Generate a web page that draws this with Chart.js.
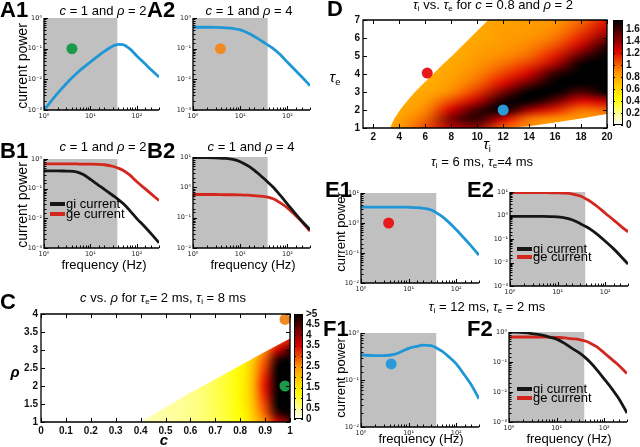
<!DOCTYPE html>
<html>
<head>
<meta charset="utf-8">
<script src="https://cdn.jsdelivr.net/npm/chart.js@4.4.0/dist/chart.umd.min.js"></script>
<style>
  body { margin: 0; background: #fff; }
  #fig { position: relative; width: 640px; height: 447px; overflow: hidden;
         font-family: "Liberation Sans", Arial, sans-serif; color: #000; }
  #fig canvas { position: absolute; }
  .t { position: absolute; white-space: nowrap; }
  .t sub { font-size: 0.62em; vertical-align: -0.3em; line-height: 0; }
  .sw { position: absolute; width: 15px; height: 4px; }
</style>
</head>
<body>
<div id="fig"></div>
<script>
// ---- spectra (frequency in Hz, power on log axes) ----
const freqs = [1, 2, 3, 5, 7, 10, 15, 20, 30, 40, 50, 70, 100, 150, 200, 300];
const shadeEnd = 38;

const powerA1 = [0.001, 0.0036, 0.0072, 0.0155, 0.024, 0.0367, 0.0594, 0.0815, 0.1206, 0.139, 0.136, 0.1, 0.058, 0.032, 0.021, 0.012];
const powerA2 = [0.5, 0.5, 0.495, 0.48, 0.455, 0.41, 0.32, 0.25, 0.168, 0.127, 0.1, 0.064, 0.036, 0.019, 0.0122, 0.0062];
const giB1 = [0.4, 0.4, 0.39, 0.37, 0.3, 0.205, 0.13, 0.095, 0.06, 0.043, 0.032, 0.0185, 0.0098, 0.0051, 0.0031, 0.0015];
const geB1 = [0.68, 0.68, 0.68, 0.68, 0.67, 0.67, 0.66, 0.64, 0.57, 0.49, 0.42, 0.29, 0.17, 0.1, 0.068, 0.04];
const giB2 = [9.5, 9.5, 9.3, 9.0, 8.3, 7.0, 5.0, 3.6, 2.1, 1.4, 1.0, 0.55, 0.28, 0.13, 0.078, 0.04];
const geB2 = [0.58, 0.58, 0.58, 0.57, 0.57, 0.56, 0.55, 0.53, 0.5, 0.47, 0.42, 0.31, 0.21, 0.115, 0.075, 0.036];
const powerE1 = [3.4, 3.4, 3.4, 3.4, 3.4, 3.35, 3.25, 3.1, 2.7, 2.1, 1.65, 1.05, 0.6, 0.3, 0.18, 0.085];
const giE2 = [0.91, 0.91, 0.91, 0.91, 0.9, 0.88, 0.78, 0.66, 0.45, 0.33, 0.25, 0.15, 0.08, 0.038, 0.021, 0.0085];
const geE2 = [9.5, 9.5, 9.5, 9.4, 9.3, 9.2, 8.9, 8.3, 6.8, 5.0, 3.8, 2.3, 1.25, 0.64, 0.39, 0.2];
const powerF1 = [0.34, 0.33, 0.33, 0.35, 0.4, 0.47, 0.52, 0.55, 0.54, 0.47, 0.41, 0.31, 0.22, 0.126, 0.083, 0.04];
const giF2 = [1.0, 0.95, 0.89, 0.78, 0.68, 0.58, 0.41, 0.3, 0.2, 0.14, 0.1, 0.055, 0.027, 0.0118, 0.0062, 0.002];
const geF2 = [0.68, 0.68, 0.68, 0.67, 0.67, 0.66, 0.64, 0.6, 0.56, 0.5, 0.43, 0.32, 0.2, 0.115, 0.078, 0.041];

// marker dots [freq, power]
const dotA1 = [4, 0.1];
const dotA2 = [3.8, 0.1];
const dotE1 = [3.8, 1.0];
const dotF1 = [4.3, 0.22];

// ---- panel C: c vs rho ----
const cVals = [0.40, 0.45, 0.50, 0.55, 0.60, 0.65, 0.70, 0.75, 0.80, 0.85, 0.90, 0.95, 1.00];
const rhoVals = [1, 1.25, 1.5, 1.75, 2, 2.25, 2.5, 2.75, 3, 3.25, 3.5];
const powerC = [
  [0.35, 0.4, 0.45, 0.5, 0.57, 0.68, 0.82, 0.98, 1.2, 1.7, 2.6, 3.6, 4.2],
  [0.35, 0.4, 0.45, 0.5, 0.57, 0.68, 0.83, 1.0, 1.25, 1.85, 2.9, 4.6, 5.6],
  [0.35, 0.4, 0.45, 0.5, 0.57, 0.68, 0.84, 1.02, 1.3, 1.95, 3.1, 5.8, 7.5],
  [0.35, 0.4, 0.45, 0.5, 0.57, 0.68, 0.85, 1.03, 1.32, 2.0, 3.3, 6.8, 8.5],
  [0.35, 0.4, 0.45, 0.5, 0.57, 0.68, 0.85, 1.04, 1.33, 2.05, 3.4, 7.2, 9.0],
  [0.35, 0.4, 0.45, 0.5, 0.57, 0.68, 0.85, 1.03, 1.32, 2.0, 3.3, 6.8, 8.5],
  [0.35, 0.4, 0.45, 0.5, 0.57, 0.68, 0.84, 1.02, 1.3, 1.95, 3.1, 5.8, 7.5],
  [0.35, 0.4, 0.45, 0.5, 0.57, 0.68, 0.83, 1.0, 1.25, 1.85, 2.9, 4.6, 5.6],
  [0.35, 0.4, 0.45, 0.5, 0.57, 0.68, 0.82, 0.98, 1.2, 1.7, 2.6, 3.6, 4.4],
  [0.35, 0.4, 0.45, 0.5, 0.57, 0.68, 0.8, 0.95, 1.1, 1.5, 2.2, 2.9, 3.4],
  [0.35, 0.4, 0.45, 0.5, 0.57, 0.68, 0.8, 0.92, 1.05, 1.35, 1.9, 2.5, 2.9]
];
const edgeC = [[0.4, 1], [0.5, 1.41], [0.6, 1.81], [0.7, 2.19], [0.8, 2.57], [0.9, 2.95], [1, 3.32], [1, 1]];
const dotsC = [[0.98, 3.85, '#f08a24'], [0.98, 2.0, '#1a9a4a']];
const cTicks = [0, 0.1, 0.2, 0.3, 0.4, 0.5, 0.6, 0.7, 0.8, 0.9, 1];
const rhoTicks = [1, 1.5, 2, 2.5, 3, 3.5, 4];
const cbarCTicks = [0, 0.5, 1, 1.5, 2, 2.5, 3, 3.5, 4, 4.5, 5];
const cbarCMax = 5;

// ---- panel D: tau_i vs tau_e ----
const tiVals = [2, 4, 6, 8, 10, 12, 14, 16, 18, 20];
const teVals = [1, 1.5, 2, 2.5, 3, 3.5, 4, 4.5, 5, 5.5, 6, 6.5, 7];
const powerD = [
  [0.78, 0.85, 1.05, 1.3, 1.4, 1.0, 0.9, 0.85, 0.82, 0.8],
  [0.78, 0.82, 0.98, 1.45, 1.65, 1.25, 0.95, 0.88, 0.85, 0.82],
  [0.78, 0.8, 0.9, 1.25, 1.6, 1.8, 1.35, 1.15, 0.95, 1.0],
  [0.78, 0.8, 0.84, 1.05, 1.3, 1.7, 1.8, 1.5, 1.2, 1.3],
  [0.78, 0.8, 0.8, 0.9, 1.1, 1.45, 1.8, 1.8, 1.55, 1.75],
  [0.78, 0.8, 0.78, 0.85, 0.98, 1.2, 1.5, 1.85, 1.8, 1.8],
  [0.78, 0.8, 0.78, 0.82, 0.92, 1.07, 1.25, 1.65, 1.88, 1.9],
  [0.78, 0.8, 0.78, 0.8, 0.88, 0.97, 1.1, 1.35, 1.8, 1.92],
  [0.78, 0.8, 0.78, 0.78, 0.85, 0.9, 0.98, 1.17, 1.55, 1.85],
  [0.78, 0.8, 0.78, 0.78, 0.83, 0.87, 0.92, 1.05, 1.3, 1.68],
  [0.78, 0.8, 0.78, 0.78, 0.8, 0.85, 0.88, 0.95, 1.15, 1.45],
  [0.78, 0.8, 0.78, 0.78, 0.8, 0.84, 0.86, 0.9, 1.05, 1.28],
  [0.78, 0.8, 0.78, 0.78, 0.8, 0.83, 0.85, 0.88, 0.98, 1.18]
];
const edgeD = [[3.28, 1], [3.6, 1.5], [4.05, 2], [4.6, 2.5], [5.2, 3], [5.9, 3.5], [6.6, 4], [7.3, 4.5],
  [8.05, 5], [8.75, 5.5], [9.45, 6], [10.15, 6.5], [10.85, 7], [20, 7], [20, 1.78], [18, 1.53], [16, 1.3], [14, 1.1], [12, 1]];
const dotsD = [[6.15, 4.05, '#e8191c'], [12, 2.0, '#2a9ad8']];
const tiTicks = [2, 4, 6, 8, 10, 12, 14, 16, 18, 20];
const teTicks = [1, 2, 3, 4, 5, 6, 7];
const cbarDTicks = [0, 0.2, 0.4, 0.6, 0.8, 1, 1.2, 1.4, 1.6];
const cbarDMax = 1.75;

// ---- look ----
const BLUE = '#1f97d6', BLACK = '#161616', RED = '#d3261d';
const hotStops = [[0, [255, 255, 255]], [0.25, [255, 255, 0]], [0.5, [255, 150, 0]], [0.7, [220, 0, 0]], [0.86, [100, 0, 0]], [1, [0, 0, 0]]];

Chart.defaults.font.family = '"Liberation Sans", Arial, sans-serif';
const fig = document.getElementById('fig');

function hot(t) {
  t = Math.max(0, Math.min(1, t));
  for (let i = 1; i < hotStops.length; i++) {
    const [t0, c0] = hotStops[i - 1], [t1, c1] = hotStops[i];
    if (t <= t1) {
      const f = (t - t0) / (t1 - t0);
      return c0.map((v, k) => Math.round(v + (c1[k] - v) * f));
    }
  }
  return hotStops[hotStops.length - 1][1];
}

function makeCanvas(x, y, w, h) {
  const c = document.createElement('canvas');
  c.width = w; c.height = h;
  c.style.left = x + 'px'; c.style.top = y + 'px';
  c.style.width = w + 'px'; c.style.height = h + 'px';
  fig.appendChild(c);
  return c;
}

function text(html, x, base, size, opt = {}) {
  const d = document.createElement('div');
  d.className = 't';
  d.innerHTML = html;
  d.style.fontSize = size + 'px';
  d.style.lineHeight = size + 'px';
  d.style.left = x + 'px';
  d.style.top = (base - 0.85 * size) + 'px';
  if (opt.bold) d.style.fontWeight = 'bold';
  if (opt.center) d.style.transform = 'translateX(-50%)';
  fig.appendChild(d);
}

function vtext(html, cx, cy, size) {
  const d = document.createElement('div');
  d.className = 't';
  d.innerHTML = html;
  d.style.fontSize = size + 'px';
  d.style.lineHeight = size + 'px';
  d.style.left = cx + 'px';
  d.style.top = cy + 'px';
  d.style.transform = 'translate(-50%,-50%) rotate(-90deg)';
  fig.appendChild(d);
}

function legendItem(x, y, label, color) {
  const s = document.createElement('div');
  s.className = 'sw';
  s.style.left = x + 'px';
  s.style.top = (y - 2) + 'px';
  s.style.background = color;
  fig.appendChild(s);
  text(label, x + 16, y + 4, 13);
}

const SUP = {'0': '\u2070', '1': '\u00b9', '2': '\u00b2', '3': '\u00b3', '-': '\u207b'};
function isPow10(v) {
  const e = Math.log10(v);
  return Math.abs(e - Math.round(e)) < 1e-6;
}
function pow10Label(v) {
  if (!isPow10(v)) return '';
  return '10' + String(Math.round(Math.log10(v))).split('').map(ch => SUP[ch]).join('');
}

// gray band for the low frequencies
function shadeLayer(to) {
  return {
    id: 'shade',
    beforeDatasetsDraw(chart) {
      const {ctx, chartArea: a, scales: {x}} = chart;
      ctx.save();
      ctx.fillStyle = '#c0c0c0';
      ctx.fillRect(a.left, a.top, x.getPixelForValue(to) - a.left, a.bottom - a.top);
      ctx.restore();
    }
  };
}

// axis lines and inward tick marks
function axesLayer(box, log) {
  return {
    id: 'axes',
    afterDraw(chart) {
      const {ctx, chartArea: a, scales: {x, y}} = chart;
      ctx.save();
      ctx.strokeStyle = '#000';
      ctx.lineWidth = 1;
      ctx.beginPath();
      x.ticks.forEach(t => {
        const p = Math.round(x.getPixelForValue(t.value)) + 0.5;
        const len = !log || isPow10(t.value) ? 4 : 2.5;
        ctx.moveTo(p, a.bottom); ctx.lineTo(p, a.bottom - len);
        if (box) { ctx.moveTo(p, a.top); ctx.lineTo(p, a.top + len); }
      });
      y.ticks.forEach(t => {
        const p = Math.round(y.getPixelForValue(t.value)) + 0.5;
        const len = !log || isPow10(t.value) ? 4 : 2.5;
        ctx.moveTo(a.left, p); ctx.lineTo(a.left + len, p);
        if (box) { ctx.moveTo(a.right, p); ctx.lineTo(a.right - len, p); }
      });
      ctx.stroke();
      ctx.lineWidth = 1.3;
      ctx.beginPath();
      ctx.moveTo(a.left, a.top);
      ctx.lineTo(a.left, a.bottom);
      ctx.lineTo(a.right, a.bottom);
      if (box) { ctx.lineTo(a.right, a.top); ctx.closePath(); }
      ctx.stroke();
      ctx.restore();
    }
  };
}

// smooth color map clipped to the region where the value exists
function heatLayer(xs, ys, z, max, edge) {
  return {
    id: 'heat',
    beforeDatasetsDraw(chart) {
      const {ctx, scales: {x, y}} = chart;
      const nx = xs.length, ny = ys.length;
      const off = document.createElement('canvas');
      off.width = nx; off.height = ny;
      const octx = off.getContext('2d');
      const img = octx.createImageData(nx, ny);
      for (let j = 0; j < ny; j++) {
        for (let i = 0; i < nx; i++) {
          const c = hot(z[j][i] / max);
          const k = ((ny - 1 - j) * nx + i) * 4;
          img.data[k] = c[0]; img.data[k + 1] = c[1]; img.data[k + 2] = c[2]; img.data[k + 3] = 255;
        }
      }
      octx.putImageData(img, 0, 0);
      const dx = xs[1] - xs[0], dy = ys[1] - ys[0];
      const x0 = x.getPixelForValue(xs[0] - dx / 2), x1 = x.getPixelForValue(xs[nx - 1] + dx / 2);
      const y0 = y.getPixelForValue(ys[ny - 1] + dy / 2), y1 = y.getPixelForValue(ys[0] - dy / 2);
      ctx.save();
      ctx.beginPath();
      edge.forEach(([u, v], n) => {
        const px = x.getPixelForValue(u), py = y.getPixelForValue(v);
        if (n) ctx.lineTo(px, py); else ctx.moveTo(px, py);
      });
      ctx.closePath();
      ctx.clip();
      ctx.imageSmoothingEnabled = true;
      ctx.imageSmoothingQuality = 'high';
      ctx.drawImage(off, x0, y0, x1 - x0, y1 - y0);
      ctx.restore();
    }
  };
}

const cbarLayer = {
  id: 'cbar',
  beforeDatasetsDraw(chart) {
    const {ctx, chartArea: a, scales: {y}} = chart;
    const g = ctx.createLinearGradient(0, a.bottom, 0, a.top);
    hotStops.forEach(([t, c]) => g.addColorStop(t, 'rgb(' + c.join(',') + ')'));
    ctx.save();
    ctx.fillStyle = g;
    ctx.fillRect(a.left, a.top, a.right - a.left, a.bottom - a.top);
    ctx.strokeStyle = '#000';
    ctx.lineWidth = 1;
    ctx.strokeRect(a.left + 0.5, a.top + 0.5, a.right - a.left - 1, a.bottom - a.top - 1);
    ctx.beginPath();
    y.ticks.forEach(t => {
      const p = Math.round(y.getPixelForValue(t.value)) + 0.5;
      ctx.moveTo(a.left, p); ctx.lineTo(a.left + 2, p);
      ctx.moveTo(a.right, p); ctx.lineTo(a.right - 2, p);
    });
    ctx.stroke();
    ctx.restore();
  }
};

const baseOpts = {responsive: false, animation: false, devicePixelRatio: 1, events: []};

const YW = 24, XH = 14, PT = 6, PR = 8;
function logAxis(min, max, horiz) {
  return {
    type: 'logarithmic', min, max,
    grid: {display: false, drawTicks: false},
    border: {display: false},
    ticks: {autoSkip: false, maxRotation: 0, padding: 2, color: '#222',
      font: {size: 6.5, family: '"DejaVu Sans", sans-serif'}, callback: v => pow10Label(v)},
    afterFit: s => { if (horiz) s.height = XH; else s.width = YW; }
  };
}

function spectrum(box, yMin, yMax, lines, dot, dotColor) {
  const [l, t, r, b] = box;
  const cv = makeCanvas(l - YW, t - PT, r - l + YW + PR, b - t + PT + XH);
  const datasets = [];
  if (dot) {
    datasets.push({data: [{x: dot[0], y: dot[1]}], showLine: false, pointRadius: 5.5,
      pointBackgroundColor: dotColor, pointBorderWidth: 0, clip: false});
  }
  lines.forEach(([vals, color]) => datasets.push({
    data: freqs.map((f, i) => ({x: f, y: vals[i]})),
    borderColor: color, borderWidth: 2.8, pointRadius: 0, fill: false,
    cubicInterpolationMode: 'monotone'
  }));
  new Chart(cv, {
    type: 'line',
    data: {datasets},
    options: {...baseOpts,
      layout: {padding: {top: PT, right: PR, left: 0, bottom: 0}},
      plugins: {legend: {display: false}, tooltip: {enabled: false}},
      scales: {x: logAxis(1, 300, true), y: logAxis(yMin, yMax, false)}
    },
    plugins: [shadeLayer(shadeEnd), axesLayer(false, true)]
  });
}

const tickFont = {size: 10, weight: 'bold'};
function linAxis(min, max, ticks, horiz, size) {
  return {
    type: 'linear', min, max,
    grid: {display: false, drawTicks: false},
    border: {display: false},
    afterBuildTicks: s => { s.ticks = ticks.map(v => ({value: v})); },
    ticks: {autoSkip: false, maxRotation: 0, padding: 3, color: '#111', font: tickFont, callback: v => String(v)},
    afterFit: s => { if (horiz) s.height = size; else s.width = size; }
  };
}

function heatPanel(box, xr, yr, xTicks, yTicks, layer, dots) {
  const [l, t, r, b] = box;
  const lw = 24, bh = 16, pt = 6, pr = 10;
  const cv = makeCanvas(l - lw, t - pt, r - l + lw + pr, b - t + pt + bh);
  new Chart(cv, {
    type: 'scatter',
    data: {datasets: dots.map(([u, v, col]) => ({data: [{x: u, y: v}], pointRadius: 5.5,
      pointBackgroundColor: col, pointBorderWidth: 0, clip: false}))},
    options: {...baseOpts,
      layout: {padding: {top: pt, right: pr, left: 0, bottom: 0}},
      plugins: {legend: {display: false}, tooltip: {enabled: false}},
      scales: {x: linAxis(xr[0], xr[1], xTicks, true, bh), y: linAxis(yr[0], yr[1], yTicks, false, lw)}
    },
    plugins: [layer, axesLayer(true, false)]
  });
}

function colorbar(box, max, ticks, label) {
  const [l, t, r, b] = box;
  const lw = 24, pad = 6;
  const cv = makeCanvas(l, t - pad, r - l + lw, b - t + 2 * pad);
  new Chart(cv, {
    type: 'scatter',
    data: {datasets: []},
    options: {...baseOpts,
      layout: {padding: {top: pad, bottom: pad, left: 0, right: 0}},
      plugins: {legend: {display: false}, tooltip: {enabled: false}},
      scales: {
        x: {display: false},
        y: {type: 'linear', position: 'right', min: 0, max,
          grid: {display: false, drawTicks: false}, border: {display: false},
          afterBuildTicks: s => { s.ticks = ticks.map(v => ({value: v})); },
          ticks: {autoSkip: false, padding: 3, color: '#111', font: tickFont, callback: label},
          afterFit: s => { s.width = lw; }}
      }
    },
    plugins: [cbarLayer]
  });
}

// ---- charts ----
spectrum([44, 18, 159, 110], 0.001, 1, [[powerA1, BLUE]], dotA1, '#1a9a4a');
spectrum([193, 18, 310, 110], 0.001, 1, [[powerA2, BLUE]], dotA2, '#f08a24');
spectrum([44, 159, 159, 248], 0.001, 1, [[giB1, BLACK], [geB1, RED]]);
spectrum([193, 157, 310, 248], 0.01, 10, [[giB2, BLACK], [geB2, RED]]);
spectrum([361, 193, 479, 283], 0.01, 10, [[powerE1, BLUE]], dotE1, '#e8191c');
spectrum([510, 192, 628, 286], 0.001, 10, [[giE2, BLACK], [geE2, RED]]);
spectrum([361, 333, 479, 427], 0.01, 1, [[powerF1, BLUE]], dotF1, '#2a9ad8');
spectrum([509, 332, 627, 422], 0.001, 1, [[giF2, BLACK], [geF2, RED]]);

heatPanel([41, 311, 290, 422], [0, 1], [1, 4], cTicks, rhoTicks,
  heatLayer(cVals, rhoVals, powerC, cbarCMax, edgeC), dotsC);
colorbar([294, 311, 303, 422], cbarCMax, cbarCTicks, v => (v === 5 ? '>5' : String(v)));

heatPanel([363, 17, 607, 128], [1.2, 20], [1, 7], tiTicks, teTicks,
  heatLayer(tiVals, teVals, powerD, cbarDMax, edgeD), dotsD);
colorbar([613, 17, 623, 128], cbarDMax, cbarDTicks, v => String(v));

// ---- text ----
const tE = '<i>\u03c4</i><sub>e</sub>', tI = '<i>\u03c4</i><sub>i</sub>';
text('A1', 0, 18, 22, {bold: 1});
text('A2', 147, 18, 22, {bold: 1});
text('<i>c</i> = 1 and <i>\u03c1</i> = 2', 103, 15, 13, {center: 1});
text('<i>c</i> = 1 and <i>\u03c1</i> = 4', 249, 15, 13, {center: 1});
vtext('current power', 22, 66, 14);

text('B1', 0, 159, 22, {bold: 1});
text('B2', 147, 159, 22, {bold: 1});
text('<i>c</i> = 1 and <i>\u03c1</i> = 2', 103, 151, 13, {center: 1});
text('<i>c</i> = 1 and <i>\u03c1</i> = 4', 251, 151, 13, {center: 1});
vtext('current power', 22, 205, 14);
text('frequency (Hz)', 104, 269, 13, {center: 1});
text('frequency (Hz)', 253, 269, 13, {center: 1});
legendItem(50, 204, 'gi current', BLACK);
legendItem(50, 214, 'ge current', RED);

text('C', 0, 310, 22, {bold: 1});
text('<i>c</i> vs. <i>\u03c1</i> for ' + tE + '= 2 ms, ' + tI + ' = 8 ms', 163, 302, 13, {center: 1});
text('<i>c</i>', 164, 445, 15, {bold: 1, center: 1});
text('<i>\u03c1</i>', 15, 377, 15, {bold: 1, center: 1});

text('D', 327, 17, 22, {bold: 1});
text(tI + ' vs. ' + tE + ' for <i>c</i> = 0.8 and <i>\u03c1</i> = 2', 493, 9.5, 13, {center: 1});
text(tE, 335, 82, 15, {center: 1});
text(tI, 487, 149, 15, {center: 1});

text(tI + ' = 6 ms, ' + tE + '=4 ms', 482, 166, 13, {center: 1});
text('E1', 325, 198, 22, {bold: 1});
text('E2', 467, 198, 22, {bold: 1});
vtext('current power', 340, 232, 13);
legendItem(517, 249, 'gi current', BLACK);
legendItem(517, 257, 'ge current', RED);

text(tI + ' = 12 ms, ' + tE + ' = 2 ms', 487, 311, 13, {center: 1});
text('F1', 323, 337, 22, {bold: 1});
text('F2', 467, 337, 22, {bold: 1});
vtext('current power', 340, 378, 13);
text('frequency (Hz)', 421, 443, 13, {center: 1});
text('frequency (Hz)', 569, 443, 13, {center: 1});
legendItem(517, 389, 'gi current', BLACK);
legendItem(517, 398, 'ge current', RED);
</script>
</body>
</html>
